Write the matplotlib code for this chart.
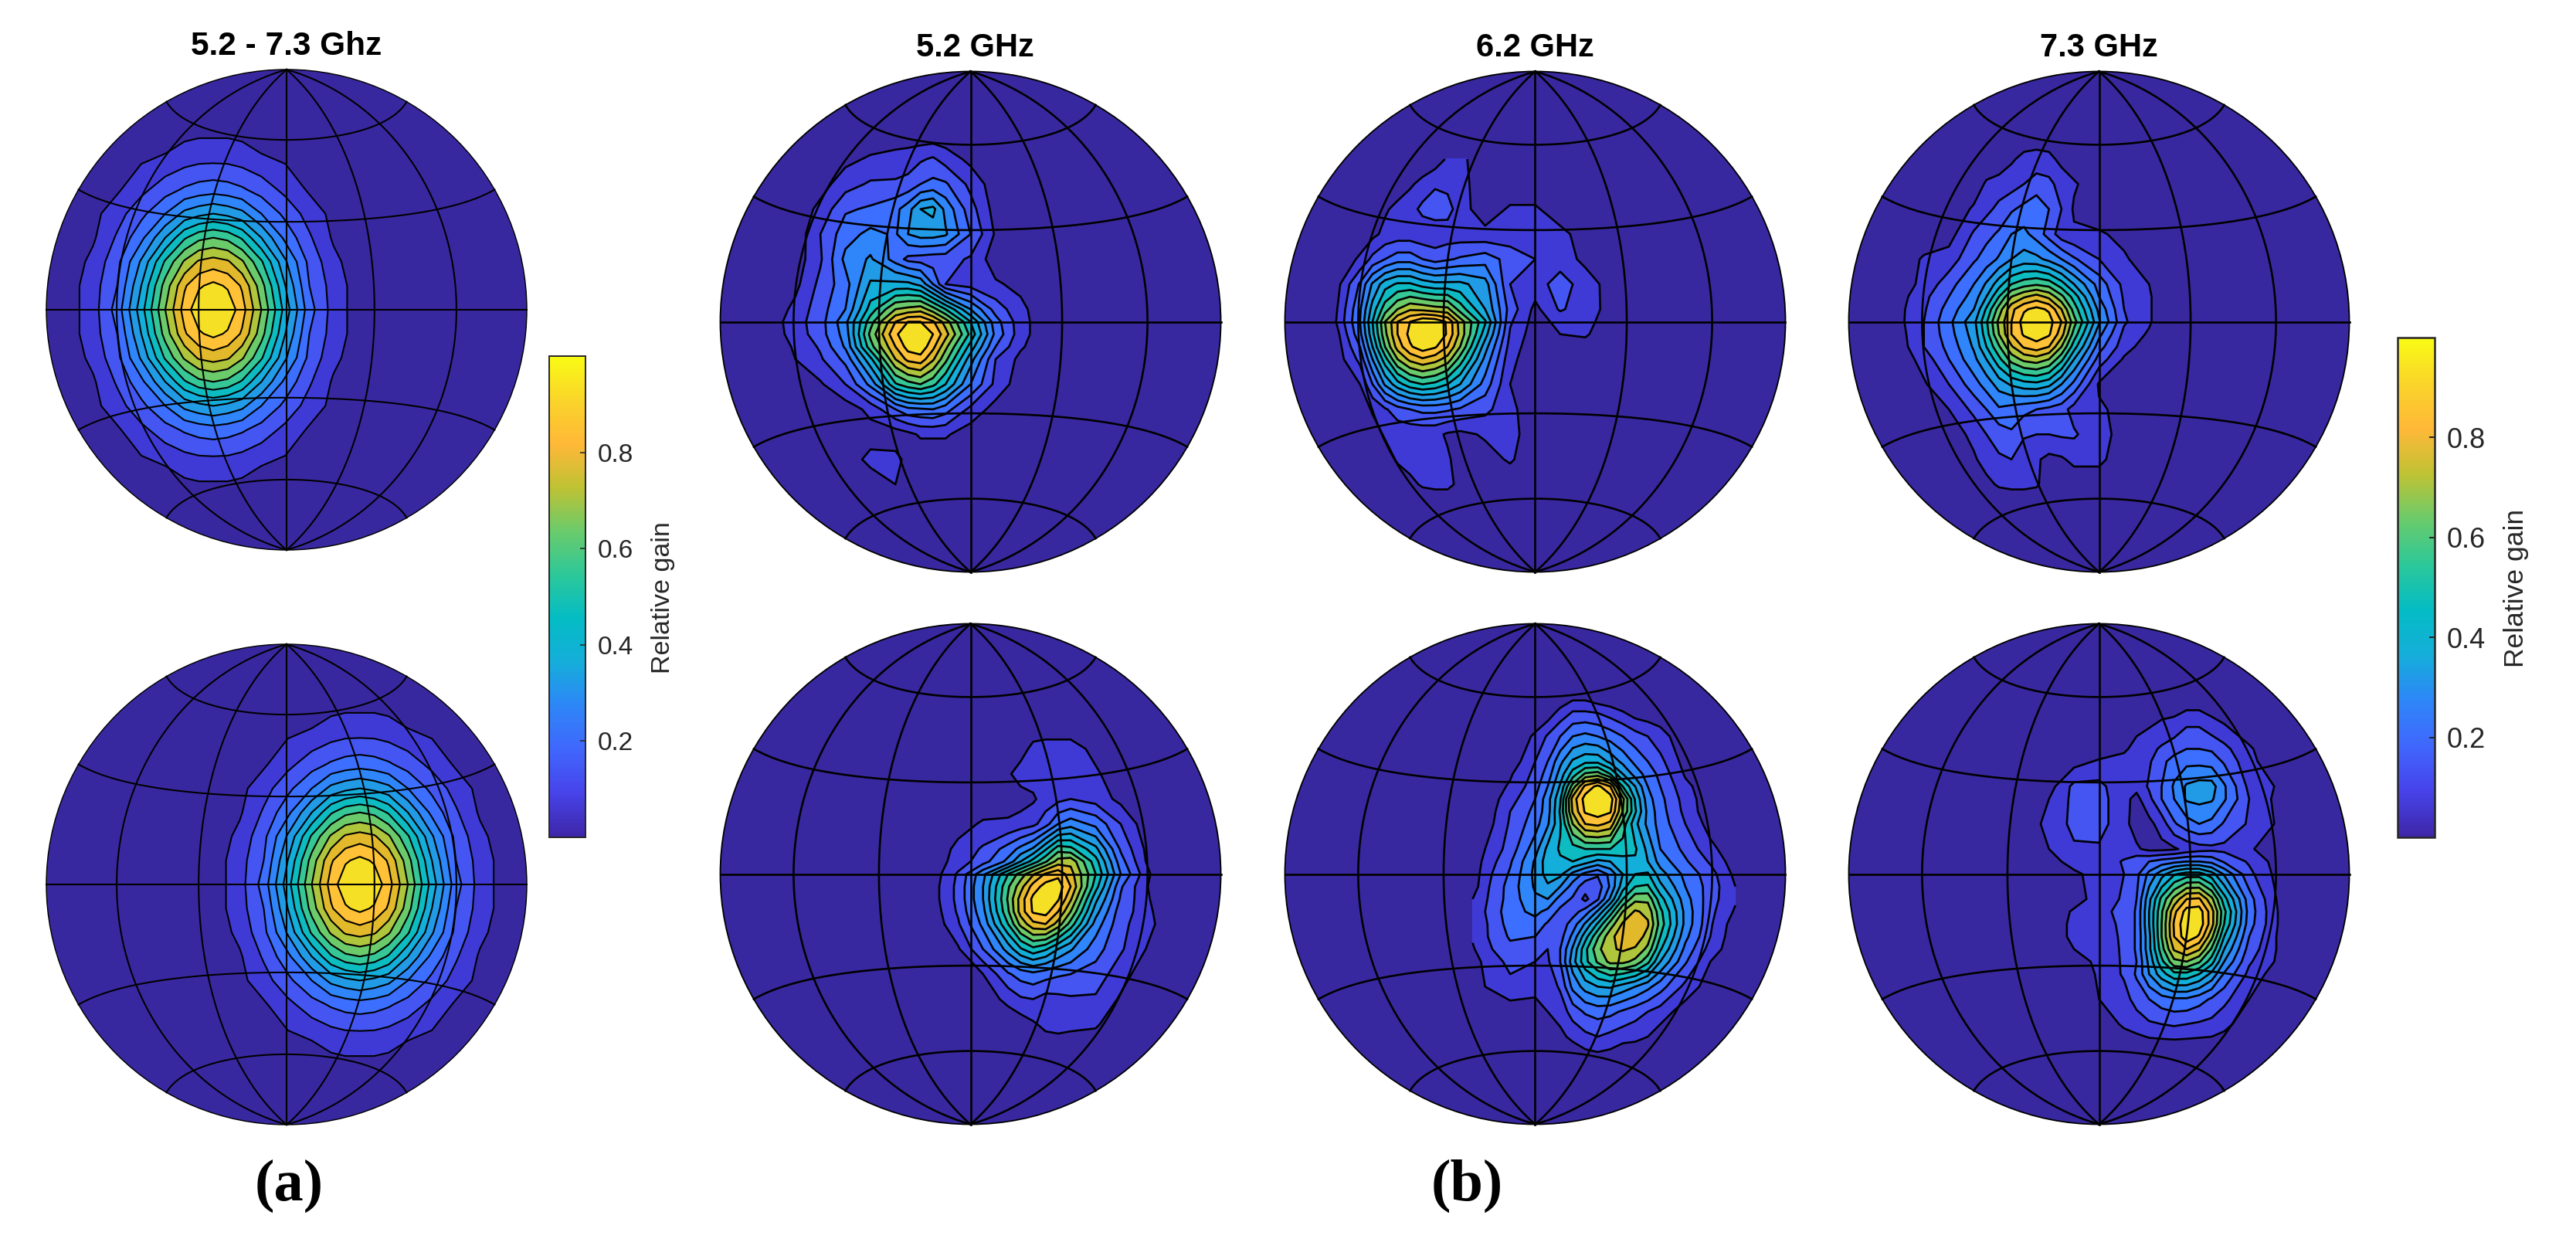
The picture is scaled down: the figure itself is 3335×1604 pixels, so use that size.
import numpy as np
import matplotlib
matplotlib.use('Agg')
import matplotlib.pyplot as plt
from matplotlib.colors import LinearSegmentedColormap, Normalize
from matplotlib.cm import ScalarMappable
from matplotlib.patches import Circle

W, H = 3335, 1604

# contour levels and the flat band colours between them (gain in percent)
levels = [0, 7, 14, 21, 28, 35, 42, 49, 56, 63, 70, 77, 84, 91, 101]
band_colors = ['#3828A0', '#3F3AD6', '#4455F2', '#3C6EFF', '#2E86FA', '#229BE6', '#14AEDA',
               '#0DBCC0', '#35C796', '#6BCB6B', '#AEC53C', '#E3B92C', '#FFC135', '#F6E025']
bar_colors = ['#3E26A8', '#4743EA', '#4067FD', '#2E86F8', '#15AEDA', '#04BCC4', '#2CC89A',
              '#6ACB6B', '#BFC234', '#FFB838', '#FAD42A', '#F9FB15']
bar_ticks = [0.2, 0.4, 0.6, 0.8]

# gain: x, y in map units (disc radius = 1), rows top to bottom
x_a_top = [-.905, -.805, -.705, -.605, -.505, -.425, -.365, -.305, -.245, -.185, -.105, -.005, .095, .195, .295]
y_a_top = [.8, .65, .5, .4, .3, .2, .1, 0, -.1, -.2, -.3, -.4, -.5, -.65, -.8]
gain_a_top = [
    [2, 2, 2, 3, 3, 3, 3, 3, 3, 3, 3, 3, 2, 2, 2],
    [2, 2, 3, 5, 7, 9, 10, 10, 10, 9, 7, 5, 3, 2, 2],
    [2, 3, 6, 12, 18, 22, 24, 25, 24, 22, 18, 12, 6, 3, 2],
    [2, 5, 11, 19, 28, 37, 40, 42, 40, 37, 28, 19, 11, 5, 2],
    [3, 6, 15, 26, 42, 55, 61, 63, 61, 55, 42, 26, 15, 6, 3],
    [3, 9, 19, 36, 57, 71, 78, 80, 78, 71, 57, 36, 19, 9, 3],
    [4, 11, 21, 42, 66, 83, 90, 93, 90, 83, 66, 42, 21, 11, 4],
    [4, 11, 24, 46, 70, 87, 96, 100, 96, 87, 70, 46, 24, 11, 4],
    [4, 11, 21, 42, 66, 83, 90, 93, 90, 83, 66, 42, 21, 11, 4],
    [3, 9, 19, 36, 57, 71, 78, 80, 78, 71, 57, 36, 19, 9, 3],
    [3, 6, 15, 26, 42, 55, 61, 63, 61, 55, 42, 26, 15, 6, 3],
    [2, 5, 11, 19, 28, 37, 40, 42, 40, 37, 28, 19, 11, 5, 2],
    [2, 3, 6, 12, 18, 22, 24, 25, 24, 22, 18, 12, 6, 3, 2],
    [2, 2, 3, 5, 7, 9, 10, 10, 10, 9, 7, 5, 3, 2, 2],
    [2, 2, 2, 3, 3, 3, 3, 3, 3, 3, 3, 3, 2, 2, 2],
]

x_a_bot = [-.295, -.195, -.095, .005, .105, .185, .245, .305, .365, .425, .505, .605, .705, .805, .905]
y_a_bot = [.8, .65, .5, .4, .3, .2, .1, 0, -.1, -.2, -.3, -.4, -.5, -.65, -.8]
gain_a_bot = [
    [2, 2, 2, 3, 3, 3, 3, 3, 3, 3, 3, 3, 2, 2, 2],
    [2, 2, 3, 5, 7, 9, 10, 10, 10, 9, 7, 5, 3, 2, 2],
    [2, 3, 6, 12, 18, 22, 24, 25, 24, 22, 18, 12, 6, 3, 2],
    [2, 5, 11, 19, 28, 37, 40, 42, 40, 37, 28, 19, 11, 5, 2],
    [3, 6, 15, 26, 42, 55, 61, 63, 61, 55, 42, 26, 15, 6, 3],
    [3, 9, 19, 36, 57, 71, 78, 80, 78, 71, 57, 36, 19, 9, 3],
    [4, 11, 21, 42, 66, 83, 90, 93, 90, 83, 66, 42, 21, 11, 4],
    [4, 11, 24, 46, 70, 87, 96, 100, 96, 87, 70, 46, 24, 11, 4],
    [4, 11, 21, 42, 66, 83, 90, 93, 90, 83, 66, 42, 21, 11, 4],
    [3, 9, 19, 36, 57, 71, 78, 80, 78, 71, 57, 36, 19, 9, 3],
    [3, 6, 15, 26, 42, 55, 61, 63, 61, 55, 42, 26, 15, 6, 3],
    [2, 5, 11, 19, 28, 37, 40, 42, 40, 37, 28, 19, 11, 5, 2],
    [2, 3, 6, 12, 18, 22, 24, 25, 24, 22, 18, 12, 6, 3, 2],
    [2, 2, 3, 5, 7, 9, 10, 10, 10, 9, 7, 5, 3, 2, 2],
    [2, 2, 2, 3, 3, 3, 3, 3, 3, 3, 3, 3, 2, 2, 2],
]

x_52_top = [-.8, -.7, -.6, -.5, -.4, -.3, -.25, -.2, -.15, -.1, 0, .1, .2, .3]
y_52_top = [.75, .65, .55, .45, .35, .25, .15, .05, 0, -.05, -.1, -.15, -.25, -.35, -.45, -.55, -.65, -.75]
gain_52_top = [
    [2, 2, 2, 2, 2, 2, 2, 2, 2, 2, 2, 2, 2, 2],
    [2, 2, 2, 5, 8, 10, 11, 13, 15, 11, 5, 2, 2, 2],
    [2, 2, 4, 11, 15, 15, 16, 21, 23, 22, 12, 3, 2, 2],
    [2, 2, 9, 20, 22, 26, 32, 42, 44, 33, 17, 4, 2, 2],
    [2, 2, 14, 25, 30, 27, 35, 38, 38, 36, 21, 6, 2, 2],
    [2, 3, 13, 30, 36, 25, 19, 18, 17, 17, 13, 3, 2, 2],
    [2, 5, 16, 25, 43, 44, 44, 40, 28, 14, 11, 8, 5, 2],
    [2, 9, 18, 28, 52, 70, 72, 74, 66, 56, 35, 18, 9, 2],
    [3, 11, 18, 33, 60, 84, 91, 91, 85, 74, 49, 24, 10, 2],
    [3, 10, 18, 31, 65, 90, 95, 97, 91, 80, 54, 26, 10, 2],
    [2, 8, 15, 29, 60, 84, 94, 96, 86, 72, 46, 21, 8, 2],
    [2, 7, 13, 23, 47, 77, 86, 88, 78, 65, 38, 14, 5, 2],
    [2, 2, 6, 14, 30, 55, 60, 63, 58, 49, 28, 12, 3, 2],
    [2, 2, 2, 3, 9, 21, 26, 27, 28, 24, 12, 4, 2, 2],
    [2, 2, 2, 3, 4, 3, 5, 8, 8, 8, 3, 2, 2, 2],
    [2, 2, 2, 3, 9, 9, 5, 2, 2, 2, 2, 2, 2, 2],
    [2, 2, 2, 2, 3, 7, 4, 2, 2, 2, 2, 2, 2, 2],
    [2, 2, 2, 2, 2, 2, 2, 2, 2, 2, 2, 2, 2, 2],
]

x_52_bot = [-.15, -.05, .05, .15, .2, .25, .3, .35, .4, .5, .6, .7, .75]
y_52_bot = [.6, .5, .4, .3, .2, .1, .05, 0, -.05, -.1, -.15, -.2, -.3, -.4, -.5, -.6, -.7]
gain_52_bot = [
    [2, 2, 2, 2, 2, 2, 2, 2, 2, 2, 2, 2, 2],
    [2, 2, 2, 2, 4, 9, 10, 10, 10, 5, 2, 2, 2],
    [2, 2, 2, 6, 10, 10, 10, 10, 10, 8, 3, 2, 2],
    [2, 2, 2, 4, 4, 6, 10, 12, 14, 11, 5, 2, 2],
    [2, 4, 8, 8, 10, 12, 18, 28, 32, 26, 14, 3, 2],
    [2, 9, 15, 24, 30, 36, 48, 60, 58, 44, 20, 6, 2],
    [3, 10, 18, 30, 42, 52, 62, 73, 75, 52, 24, 7, 2],
    [3, 15, 33, 56, 66, 76, 85, 89, 80, 56, 28, 10, 2],
    [4, 16, 35, 62, 74, 87, 94, 95, 84, 52, 22, 8, 2],
    [4, 16, 35, 64, 80, 93, 97, 92, 78, 44, 20, 9, 3],
    [3, 15, 33, 62, 80, 92, 94, 84, 70, 38, 17, 11, 4],
    [2, 13, 30, 56, 72, 82, 84, 74, 60, 32, 16, 10, 6],
    [2, 6, 21, 38, 48, 54, 50, 42, 36, 24, 15, 7, 2],
    [2, 2, 7, 20, 24, 26, 24, 22, 21, 18, 10, 3, 2],
    [2, 2, 3, 9, 13, 14, 11, 12, 13, 13, 6, 2, 2],
    [2, 2, 2, 2, 3, 6, 9, 10, 9, 8, 2, 2, 2],
    [2, 2, 2, 2, 2, 2, 2, 2, 2, 2, 2, 2, 2],
]

x_62_top = [-.8, -.7, -.65, -.6, -.55, -.5, -.45, -.4, -.35, -.3, -.2, -.1, 0, .1, .2, .3]
y_62_top = [.65, .55, .45, .35, .25, .15, .05, 0, -.05, -.1, -.15, -.25, -.35, -.45, -.55, -.65, -.72]
gain_62_top = [
    [2, 2, 2, 2, 2, 2, 2, 3, 8, 9, 2, 2, 2, 2, 2, 2],
    [2, 2, 2, 2, 3, 6, 9, 13, 12, 10, 2, 2, 2, 2, 2, 2],
    [2, 2, 2, 6, 9, 11, 16, 18, 17, 10, 3, 8, 8, 3, 2, 2],
    [2, 3, 5, 9, 10, 10, 9, 9, 10, 10, 9, 10, 10, 9, 4, 2],
    [2, 8, 16, 21, 25, 25, 21, 18, 20, 22, 25, 18, 14, 11, 5, 2],
    [3, 22, 36, 46, 50, 50, 46, 44, 44, 44, 38, 14, 11, 17, 11, 4],
    [5, 27, 45, 60, 70, 76, 75, 73, 72, 60, 42, 18, 5, 15, 10, 5],
    [6, 28, 49, 70, 84, 91, 97, 96, 90, 74, 50, 15, 4, 9, 9, 4],
    [3, 26, 47, 68, 84, 93, 100, 98, 90, 75, 45, 13, 3, 7, 8, 2],
    [2, 21, 42, 63, 80, 90, 95, 92, 84, 70, 38, 11, 2, 6, 4, 2],
    [2, 16, 35, 53, 70, 79, 83, 80, 74, 60, 33, 9, 2, 2, 2, 2],
    [2, 7, 21, 36, 46, 53, 56, 54, 49, 42, 25, 7, 2, 2, 2, 2],
    [2, 2, 8, 13, 18, 21, 23, 23, 22, 20, 16, 9, 2, 2, 2, 2],
    [2, 2, 3, 8, 9, 9, 9, 9, 6, 5, 8, 10, 2, 2, 2, 2],
    [2, 2, 2, 3, 8, 10, 10, 10, 8, 4, 4, 8, 2, 2, 2, 2],
    [2, 2, 2, 2, 2, 5, 8, 9, 9, 5, 2, 2, 2, 2, 2, 2],
    [2, 2, 2, 2, 2, 2, 2, 2, 2, 2, 2, 2, 2, 2, 2, 2],
]

x_62_bot = [-.25, -.2, -.1, 0, .05, .1, .15, .2, .25, .3, .35, .4, .45, .5, .6, .7, .8]
y_62_bot = [.7, .65, .55, .45, .4, .35, .3, .25, .2, .1, .05, 0, -.05, -.1, -.15, -.2, -.25, -.3, -.35, -.45, -.55, -.65, -.72]
gain_62_bot = [
    [2, 2, 2, 2, 2, 2, 6, 6, 3, 2, 2, 2, 2, 2, 2, 2, 2],
    [2, 2, 2, 2, 2, 9, 14, 14, 13, 10, 7, 3, 2, 2, 2, 2, 2],
    [2, 2, 2, 8, 15, 21, 28, 30, 28, 25, 21, 17, 14, 10, 2, 2, 2],
    [2, 2, 2, 14, 21, 33, 43, 47, 47, 40, 33, 26, 21, 16, 4, 2, 2],
    [2, 2, 6, 16, 24, 38, 52, 64, 66, 56, 42, 32, 25, 19, 6, 2, 2],
    [2, 2, 8, 18, 28, 43, 66, 86, 93, 84, 56, 42, 28, 21, 9, 2, 2],
    [2, 2, 11, 21, 32, 48, 80, 94, 100, 95, 72, 48, 31, 23, 11, 2, 2],
    [2, 2, 14, 23, 32, 50, 78, 92, 95, 92, 70, 50, 33, 24, 12, 2, 2],
    [2, 3, 15, 25, 34, 48, 70, 84, 86, 82, 60, 44, 33, 25, 14, 4, 2],
    [2, 7, 17, 32, 44, 50, 53, 56, 56, 56, 53, 50, 40, 28, 19, 9, 2],
    [2, 9, 20, 36, 46, 48, 49, 45, 40, 42, 46, 48, 42, 32, 22, 13, 3],
    [2, 11, 22, 37, 45, 44, 33, 26, 22, 30, 42, 49, 50, 38, 26, 17, 5],
    [3, 12, 24, 36, 41, 35, 25, 17, 17, 29, 46, 56, 57, 44, 28, 18, 7],
    [7, 13, 24, 34, 35, 25, 20, 12, 20, 36, 56, 68, 68, 52, 31, 17, 8],
    [9, 14, 25, 30, 26, 19, 18, 24, 36, 52, 70, 78, 75, 58, 33, 16, 6],
    [10, 13, 24, 25, 20, 17, 24, 36, 50, 66, 78, 83, 78, 60, 33, 15, 3],
    [8, 13, 22, 21, 16, 18, 30, 46, 62, 75, 81, 82, 74, 56, 30, 14, 2],
    [6, 12, 19, 17, 14, 21, 36, 54, 68, 76, 78, 76, 68, 50, 26, 11, 2],
    [3, 9, 16, 14, 13, 21, 39, 54, 64, 72, 72, 68, 58, 42, 22, 7, 2],
    [2, 7, 12, 10, 10, 15, 30, 38, 42, 43, 39, 35, 30, 24, 12, 3, 2],
    [2, 2, 3, 3, 7, 10, 17, 22, 24, 23, 20, 17, 14, 11, 3, 2, 2],
    [2, 2, 2, 2, 2, 5, 9, 12, 14, 12, 10, 9, 7, 3, 2, 2, 2],
    [2, 2, 2, 2, 2, 2, 2, 5, 6, 5, 2, 2, 2, 2, 2, 2, 2],
]

x_73_top = [-.8, -.7, -.6, -.5, -.45, -.4, -.35, -.3, -.25, -.2, -.15, -.1, 0, .1, .2, .25]
y_73_top = [.75, .65, .55, .45, .35, .25, .15, .1, .05, 0, -.05, -.1, -.15, -.25, -.35, -.45, -.55, -.65, -.72]
gain_73_top = [
    [2, 2, 2, 2, 2, 2, 2, 2, 2, 2, 2, 2, 2, 2, 2, 2],
    [2, 2, 2, 2, 2, 2, 6, 9, 10, 9, 5, 2, 2, 2, 2, 2],
    [2, 2, 2, 3, 8, 10, 11, 14, 17, 16, 11, 8, 2, 2, 2, 2],
    [2, 2, 2, 8, 12, 16, 20, 23, 26, 21, 14, 6, 2, 2, 2, 2],
    [2, 2, 4, 15, 19, 22, 28, 30, 25, 18, 10, 8, 8, 5, 2, 2],
    [2, 8, 10, 20, 24, 29, 35, 38, 37, 33, 28, 22, 14, 8, 3, 2],
    [3, 9, 18, 28, 36, 46, 56, 60, 62, 60, 52, 42, 25, 12, 7, 2],
    [4, 12, 21, 31, 42, 56, 70, 76, 80, 75, 65, 53, 28, 13, 8, 3],
    [5, 13, 24, 35, 50, 66, 82, 90, 93, 90, 77, 60, 33, 14, 8, 3],
    [5, 14, 26, 40, 55, 72, 84, 94, 100, 94, 84, 66, 36, 15, 8, 3],
    [4, 14, 25, 38, 53, 70, 84, 92, 95, 92, 80, 60, 30, 12, 6, 2],
    [3, 14, 23, 36, 49, 62, 76, 85, 88, 84, 70, 52, 24, 10, 3, 2],
    [2, 10, 21, 33, 42, 54, 66, 72, 74, 70, 58, 42, 18, 6, 2, 2],
    [2, 6, 14, 25, 31, 38, 43, 46, 47, 44, 35, 26, 6, 2, 2, 2],
    [2, 2, 7, 16, 21, 27, 25, 23, 21, 19, 17, 11, 8, 5, 2, 2],
    [2, 2, 3, 9, 14, 17, 20, 15, 14, 14, 15, 15, 9, 5, 2, 2],
    [2, 2, 2, 6, 10, 13, 14, 9, 8, 5, 6, 9, 9, 2, 2, 2],
    [2, 2, 2, 2, 5, 8, 9, 9, 8, 3, 2, 2, 2, 2, 2, 2],
    [2, 2, 2, 2, 2, 2, 2, 2, 2, 2, 2, 2, 2, 2, 2, 2],
]

x_73_bot = [-.25, -.2, -.1, 0, .1, .15, .2, .25, .3, .35, .4, .45, .5, .6, .7, .75]
y_73_bot = [.7, .6, .5, .45, .35, .3, .2, .1, .05, 0, -.1, -.15, -.2, -.25, -.3, -.35, -.4, -.5, -.6, -.7]
gain_73_bot = [
    [2, 2, 2, 2, 2, 2, 2, 2, 2, 2, 2, 2, 2, 2, 2, 2],
    [2, 2, 2, 2, 2, 5, 6, 8, 9, 13, 13, 9, 7, 2, 2, 2],
    [2, 2, 2, 2, 6, 9, 12, 15, 18, 21, 21, 20, 16, 8, 2, 2],
    [2, 2, 4, 8, 9, 10, 13, 19, 24, 26, 26, 25, 20, 9, 3, 2],
    [2, 4, 16, 16, 9, 9, 15, 21, 29, 36, 38, 38, 29, 12, 7, 2],
    [2, 7, 16, 17, 9, 5, 12, 21, 28, 36, 37, 36, 29, 14, 6, 2],
    [6, 9, 16, 17, 9, 4, 5, 10, 20, 25, 28, 26, 20, 13, 7, 2],
    [2, 7, 13, 13, 9, 8, 5, 5, 6, 9, 11, 12, 12, 8, 3, 2],
    [2, 5, 9, 8, 15, 19, 21, 24, 26, 28, 28, 26, 20, 13, 5, 2],
    [2, 2, 6, 9, 14, 19, 30, 39, 48, 52, 52, 45, 34, 16, 6, 2],
    [2, 2, 4, 10, 15, 21, 40, 58, 72, 84, 85, 72, 52, 24, 8, 2],
    [2, 2, 8, 13, 15, 22, 42, 62, 82, 94, 95, 80, 58, 25, 9, 2],
    [2, 2, 9, 12, 15, 22, 42, 63, 85, 97, 96, 80, 56, 24, 9, 2],
    [2, 2, 9, 11, 15, 22, 40, 63, 84, 96, 90, 72, 49, 21, 8, 2],
    [2, 2, 7, 10, 15, 22, 40, 60, 78, 84, 78, 62, 42, 18, 8, 2],
    [2, 2, 3, 9, 15, 21, 37, 54, 68, 70, 64, 52, 35, 15, 7, 2],
    [2, 2, 2, 8, 15, 22, 35, 46, 54, 54, 49, 40, 27, 12, 4, 2],
    [2, 2, 2, 7, 11, 17, 21, 25, 27, 27, 24, 20, 16, 7, 2, 2],
    [2, 2, 2, 3, 8, 10, 13, 14, 15, 14, 13, 12, 9, 3, 2, 2],
    [2, 2, 2, 2, 2, 2, 2, 2, 2, 2, 2, 2, 2, 2, 2, 2],
]

plt.rcParams['font.family'] = ['Liberation Sans', 'DejaVu Sans']

fig = plt.figure(figsize=(W / 100, H / 100), dpi=100)


def project(lon, lat):
    # lambert equal area, scaled so the +-90 deg edge is the unit circle
    lon, lat = np.radians(lon), np.radians(lat)
    k = 1 / np.sqrt(1 + np.cos(lat) * np.cos(lon))
    return k * np.cos(lat) * np.sin(lon), k * np.sin(lat)


def draw_globe(cx, cy, r, x, y, gain, lw):
    s = r * 1.02
    ax = fig.add_axes([(cx - s) / W, 1 - (cy + s) / H, 2 * s / W, 2 * s / H])
    ax.set_xlim(-1.02, 1.02)
    ax.set_ylim(-1.02, 1.02)
    ax.axis('off')
    disc = Circle((0, 0), 1, facecolor=band_colors[0], edgecolor='none', zorder=1)
    ax.add_patch(disc)
    z = np.array(gain, dtype=float)
    cf = ax.contourf(x, y, z, levels=levels, colors=band_colors, zorder=2)
    cf.set_clip_path(disc)
    cl = ax.contour(x, y, z, levels=levels[1:-1], colors='black', linewidths=lw, zorder=3)
    cl.set_clip_path(disc)
    t = np.linspace(-90, 90, 181)
    for lon in [-60, -30, 0, 30, 60]:
        px, py = project(np.full_like(t, lon), t)
        ax.plot(px, py, color='black', lw=lw, zorder=4)
    for lat in [-60, -30, 0, 30, 60]:
        px, py = project(t, np.full_like(t, lat))
        ax.plot(px, py, color='black', lw=lw, zorder=4)
    ax.add_patch(Circle((0, 0), 1, facecolor='none', edgecolor='black', lw=lw * 0.7, zorder=5))


def draw_bar(left, right, top, bottom, tick_size, label_x, label_y, label_size, lw):
    cax = fig.add_axes([left / W, 1 - bottom / H, (right - left) / W, (bottom - top) / H])
    cmap = LinearSegmentedColormap.from_list('gain', bar_colors, N=256)
    cb = fig.colorbar(ScalarMappable(Normalize(0, 1), cmap), cax=cax, ticks=bar_ticks)
    cb.ax.tick_params(direction='in', length=5, width=lw * 0.8, color='#262626',
                      labelcolor='#262626', labelsize=tick_size, pad=11)
    cb.ax.set_yticklabels(['%.1f' % v for v in bar_ticks])
    cb.outline.set_edgecolor('#262626')
    cb.outline.set_linewidth(lw)
    fig.text(label_x / W, 1 - label_y / H, 'Relative gain', rotation=90, ha='center', va='center',
             fontsize=label_size, color='#262626')


draw_globe(371, 401, 311, x_a_top, y_a_top, gain_a_top, 1.5)
draw_globe(371, 1145, 311, x_a_bot, y_a_bot, gain_a_bot, 1.5)
draw_globe(1256.5, 416.5, 324, x_52_top, y_52_top, gain_52_top, 1.9)
draw_globe(1256.5, 1131.5, 324, x_52_bot, y_52_bot, gain_52_bot, 1.9)
draw_globe(1987.5, 416.5, 324, x_62_top, y_62_top, gain_62_top, 1.9)
draw_globe(1987.5, 1131.5, 324, x_62_bot, y_62_bot, gain_62_bot, 1.9)
draw_globe(2717.5, 416.5, 324, x_73_top, y_73_top, gain_73_top, 1.9)
draw_globe(2717.5, 1131.5, 324, x_73_bot, y_73_bot, gain_73_bot, 1.9)

draw_bar(711, 758, 461, 1084, 24, 858, 774, 24.5, 1.4)
draw_bar(3104, 3152, 437, 1084, 26, 3258, 761, 25.5, 1.8)

fig.text(371 / W, 1 - 60 / H, '5.2 - 7.3 Ghz', ha='center', va='center', fontsize=30.5, fontweight='bold')
fig.text(1262 / W, 1 - 62 / H, '5.2 GHz', ha='center', va='center', fontsize=30, fontweight='bold')
fig.text(1987 / W, 1 - 62 / H, '6.2 GHz', ha='center', va='center', fontsize=30, fontweight='bold')
fig.text(2717 / W, 1 - 62 / H, '7.3 GHz', ha='center', va='center', fontsize=30, fontweight='bold')

fig.text(374 / W, 1 - 1535 / H, '(a)', ha='center', va='center', fontsize=55, fontweight='bold',
         family=['Liberation Serif', 'DejaVu Serif'])
fig.text(1899 / W, 1 - 1535 / H, '(b)', ha='center', va='center', fontsize=55, fontweight='bold',
         family=['Liberation Serif', 'DejaVu Serif'])

fig.savefig('out.png', dpi=100)
